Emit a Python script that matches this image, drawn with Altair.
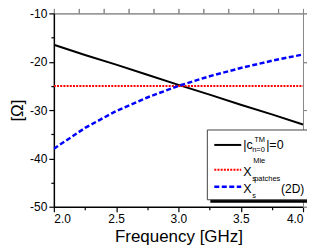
import altair as alt
import pandas as pd

freq = [2.0, 2.25, 2.5, 2.75, 3.0, 3.25, 3.5, 3.75, 4.0]
x_ctm = [-16.5, -18.6, -20.6, -22.7, -24.8, -26.8, -28.9, -30.9, -33.0]
x_mie = [-25.0, -25.0, -25.0, -25.0, -25.0, -25.0, -25.0, -25.0, -25.0]
x_patch = [-38.0, -33.7, -30.2, -27.4, -25.0, -23.0, -21.3, -19.8, -18.5]

x_major = [2.0, 2.5, 3.0, 3.5, 4.0]
x_minor = [2.25, 2.75, 3.25, 3.75]
y_major = [-50, -40, -30, -20, -10]
y_minor = [-45, -35, -25, -15]

FONT = "Liberation Sans"
W, H = 250, 194

xs = alt.Scale(domain=[2.0, 4.0], nice=False, zero=False)
ys = alt.Scale(domain=[-50, -10], nice=False, zero=False)

def series(vals):
    return pd.DataFrame({"f": freq, "v": vals})

x_main_axis = alt.Axis(values=x_major, format=".1f", title="Frequency [GHz]",
                       tickSize=5, tickWidth=1.2, tickColor="black",
                       domainColor="black", domainWidth=1.5, grid=False,
                       labelFont=FONT, labelFontSize=12, labelColor="black",
                       labelPadding=2, titleFont=FONT, titleFontSize=17,
                       titleFontWeight="normal", titleColor="black", titlePadding=4,
                       orient="bottom")
y_main_axis = alt.Axis(values=y_major, title="[Ω]",
                       labelExpr="'-' + toString(abs(datum.value))",
                       tickSize=5, tickWidth=1.2, tickColor="black",
                       domainColor="black", domainWidth=1.5, grid=False,
                       labelFont=FONT, labelFontSize=12, labelColor="black",
                       labelPadding=2, titleFont=FONT, titleFontSize=17,
                       titleFontWeight="normal", titleColor="black", titlePadding=3,
                       orient="left")

black = alt.Chart(series(x_ctm)).mark_line(color="black", strokeWidth=2, clip=True).encode(
    x=alt.X("f:Q", scale=xs, axis=x_main_axis),
    y=alt.Y("v:Q", scale=ys, axis=y_main_axis))
red = alt.Chart(series(x_mie)).mark_line(color="#ff0000", strokeWidth=2, strokeDash=[2, 1.2], clip=True).encode(
    x=alt.X("f:Q", scale=xs), y=alt.Y("v:Q", scale=ys))
blue = alt.Chart(series(x_patch)).mark_line(color="#0000ff", strokeWidth=2.5, strokeDash=[5, 2.5], clip=True).encode(
    x=alt.X("f:Q", scale=xs), y=alt.Y("v:Q", scale=ys))

minor_df = pd.DataFrame({"f": x_minor, "v": y_minor})
minor = alt.Chart(minor_df).mark_point(opacity=0).encode(
    x=alt.X("f:Q", scale=xs, axis=alt.Axis(values=x_minor, labels=False, domain=False, grid=False,
                                           tickSize=3, tickWidth=1.2, tickColor="black",
                                           title=None, orient="bottom")),
    y=alt.Y("v:Q", scale=ys, axis=alt.Axis(values=y_minor, labels=False, domain=False, grid=False,
                                           tickSize=3, tickWidth=1.2, tickColor="black",
                                           title=None, orient="left")))

one = pd.DataFrame({"a": [0]})

def box(x1, x2, y1, y2, fill, stroke=None):
    kw = dict(fill=fill)
    if stroke:
        kw.update(stroke=stroke, strokeWidth=1)
    return alt.Chart(one).mark_rect(**kw).encode(
        x=alt.value(x1), x2=alt.value(x2), y=alt.value(y1), y2=alt.value(y2))

def sample(y, color, width, dash=None):
    kw = dict(color=color, strokeWidth=width)
    if dash:
        kw.update(strokeDash=dash)
    return alt.Chart(one).mark_rule(**kw).encode(
        x=alt.value(161), x2=alt.value(188), y=alt.value(y))

def txt(s, x, y, size):
    return alt.Chart(one).mark_text(text=s, font=FONT, fontSize=size, align="left",
                                    baseline="middle", color="black").encode(
        x=alt.value(x), y=alt.value(y))

legend = [
    box(157, 259, 120, 190, "black"),
    box(154, 256, 117, 187, "white", "#444444"),
    sample(132, "black", 2),
    sample(157, "#ff0000", 2, [2, 1.2]),
    sample(174, "#0000ff", 2.5, [5, 2.5]),
    txt("|c", 190, 132, 12.5),
    txt("TM", 201, 127, 7.5),
    txt("n=0", 199, 137, 7.5),
    txt("|=0", 213, 132, 12.5),
    txt("X", 190, 159, 12.5),
    txt("Mie", 200, 148, 7.5),
    txt("s", 199, 166, 7.5),
    txt("X", 190, 176, 12.5),
    txt("patches", 201, 166, 7.5),
    txt("s", 199, 183, 7.5),
    txt("(2D)", 228, 176, 12),
]

main = alt.layer(black, red, blue, minor).resolve_axis(x="independent", y="independent")

chart = alt.layer(main, *legend).properties(
    width=W, height=H,
    autosize=alt.AutoSizeParams(type="none"),
    padding={"left": 46, "top": 5, "right": 4, "bottom": 39},
).configure_view(stroke=None)

chart.save("out.html", embed_options={"renderer": "svg", "actions": False})
